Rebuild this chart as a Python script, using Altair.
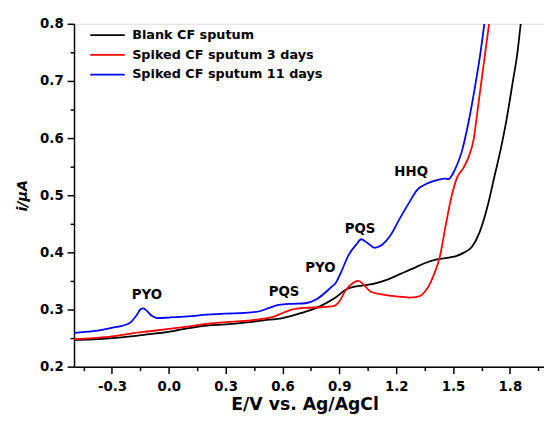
import altair as alt
import pandas as pd

series_names = ["Blank CF sputum", "Spiked CF sputum 3 days", "Spiked CF sputum 11 days"]
series_colors = ["#000000", "#FF0000", "#0000FF"]

blank_x = [-0.5, -0.4, -0.3, -0.2, -0.1, 0.0, 0.1, 0.2, 0.3, 0.4, 0.5, 0.6, 0.7, 0.8, 0.88, 0.94, 0.98,
           1.02, 1.08, 1.15, 1.22, 1.29, 1.35, 1.42, 1.48, 1.52, 1.56, 1.6, 1.64, 1.68, 1.72, 1.75, 1.78,
           1.815, 1.84, 1.857]
blank_y = [0.247, 0.248, 0.250, 0.253, 0.257, 0.261, 0.267, 0.272, 0.274, 0.277, 0.281, 0.285, 0.294,
           0.306, 0.321, 0.336, 0.340, 0.342, 0.345, 0.352, 0.362, 0.372, 0.381, 0.388, 0.391, 0.394,
           0.400, 0.410, 0.435, 0.478, 0.535, 0.578, 0.628, 0.698, 0.750, 0.800]

day3_x = [-0.5, -0.4, -0.3, -0.2, -0.1, 0.0, 0.1, 0.2, 0.3, 0.4, 0.5, 0.55, 0.6, 0.65, 0.72, 0.8, 0.87,
          0.9, 0.93, 0.97, 1.0, 1.03, 1.066, 1.13, 1.2, 1.27, 1.31, 1.34, 1.37, 1.4, 1.43, 1.46, 1.49,
          1.52, 1.555, 1.58, 1.61, 1.63, 1.65, 1.67, 1.69]
day3_y = [0.248, 0.250, 0.253, 0.258, 0.262, 0.266, 0.270, 0.275, 0.278, 0.280, 0.284, 0.287, 0.294,
          0.300, 0.303, 0.304, 0.306, 0.314, 0.332, 0.346, 0.350, 0.343, 0.331, 0.326, 0.323, 0.321,
          0.322, 0.327, 0.340, 0.362, 0.392, 0.445, 0.495, 0.530, 0.548, 0.565, 0.600, 0.650, 0.700,
          0.750, 0.800]

day11_x = [-0.5, -0.4, -0.3, -0.24, -0.2, -0.17, -0.15, -0.135, -0.12, -0.09, -0.06, 0.0, 0.1, 0.2, 0.3,
           0.4, 0.48, 0.53, 0.58, 0.65, 0.72, 0.78, 0.82, 0.86, 0.88, 0.91, 0.95, 0.99, 1.015, 1.05,
           1.087, 1.12, 1.17, 1.22, 1.27, 1.31, 1.36, 1.42, 1.46, 1.475, 1.51, 1.545, 1.58, 1.62, 1.645,
           1.665]
day11_y = [0.259, 0.262, 0.268, 0.272, 0.278, 0.290, 0.300, 0.302, 0.299, 0.289, 0.285, 0.286, 0.288,
           0.291, 0.293, 0.294, 0.297, 0.303, 0.308, 0.310, 0.311, 0.318, 0.328, 0.340, 0.346, 0.366,
           0.396, 0.414, 0.423, 0.416, 0.408, 0.412, 0.430, 0.460, 0.488, 0.509, 0.520, 0.527, 0.529,
           0.528, 0.545, 0.575, 0.625, 0.698, 0.750, 0.800]

peak_labels = ["PYO", "PQS", "PYO", "PQS", "HHQ"]
peak_x = [-0.115, 0.608, 0.80, 1.009, 1.279]
peak_y = [0.326, 0.331, 0.372, 0.441, 0.541]

x_ticks = [-0.45, -0.3, -0.15, 0.0, 0.15, 0.3, 0.45, 0.6, 0.75, 0.9, 1.05, 1.2, 1.35, 1.5, 1.65, 1.8, 1.95]
y_ticks = [0.2, 0.25, 0.3, 0.35, 0.4, 0.45, 0.5, 0.55, 0.6, 0.65, 0.7, 0.75, 0.8]

rows = []
for name, xs, ys in [(series_names[0], blank_x, blank_y),
                     (series_names[1], day3_x, day3_y),
                     (series_names[2], day11_x, day11_y)]:
    for i, (a, b) in enumerate(zip(xs, ys)):
        rows.append({"series": name, "E": a, "i": b, "order": i})
df = pd.DataFrame(rows)
ann = pd.DataFrame({"label": peak_labels, "E": peak_x, "i": peak_y})

FONT = "DejaVu Sans"

x_minor = "abs(datum.value/0.3 - round(datum.value/0.3)) > 0.01"
y_minor = "abs(datum.value/0.1 - round(datum.value/0.1)) > 0.01"

x_scale = alt.Scale(domain=[-0.5, 1.98], nice=False, zero=False)
y_scale = alt.Scale(domain=[0.2, 0.8], nice=False, zero=False)

x_axis = alt.Axis(
    title="E/V vs. Ag/AgCl", values=x_ticks,
    labelExpr=f"{x_minor} ? '' : (datum.value < -0.001 ? '-' : '') + format(abs(datum.value), '.1f')",
    tickSize={"condition": {"test": x_minor, "value": 4}, "value": 7},
    grid=False, domainColor="black", domainWidth=1.5, tickColor="black", tickWidth=1.5,
    labelFont=FONT, labelFontWeight="bold", labelFontSize=13.5, labelColor="black", labelPadding=6,
    titleFont=FONT, titleFontWeight="bold", titleFontSize=17.5, titleColor="black", titlePadding=3,
    titleX=234, labelFlush=False, labelOverlap=False,
)
y_axis = alt.Axis(
    title="i/\u03bcA", values=y_ticks,
    labelExpr=f"{y_minor} ? '' : format(datum.value, '.1f')",
    tickSize={"condition": {"test": y_minor, "value": 4}, "value": 7},
    grid=False, domainColor="black", domainWidth=1.5, tickColor="black", tickWidth=1.5,
    labelFont=FONT, labelFontWeight="bold", labelFontSize=13.5, labelColor="black", labelPadding=4,
    titleFont=FONT, titleFontWeight="bold", titleFontStyle="italic", titleFontSize=14.5,
    titleColor="black", titlePadding=10, labelFlush=False, labelOverlap=False,
)

lines = alt.Chart(df).mark_line(strokeWidth=1.8, clip=True, interpolate="monotone").encode(
    x=alt.X("E:Q", scale=x_scale, axis=x_axis),
    y=alt.Y("i:Q", scale=y_scale, axis=y_axis),
    color=alt.Color("series:N", scale=alt.Scale(domain=series_names, range=series_colors),
                    legend=alt.Legend(
                        title=None, orient="none", legendX=27.5, legendY=5,
                        symbolType="M-5,0H5", symbolSize=49, symbolStrokeWidth=1.8,
                        labelFont=FONT, labelFontWeight="bold", labelFontSize=13,
                        labelColor="black", labelOffset=18.5, rowPadding=6, padding=0,
                        labelLimit=400)),
    order="order:Q",
)

texts = alt.Chart(ann).mark_text(font=FONT, fontWeight="bold", fontSize=13.5, color="black").encode(
    x=alt.X("E:Q", scale=x_scale, axis=x_axis),
    y=alt.Y("i:Q", scale=y_scale, axis=y_axis),
    text="label:N",
)

chart = alt.layer(lines, texts).properties(
    width=477, height=348,
    autosize=alt.AutoSizeParams(type="none"),
    padding={"left": 67, "top": 13, "right": 0, "bottom": 45},
).configure_view(stroke=None).configure(background="white")

chart.save("out.html", embed_options={"renderer": "svg", "actions": False})
